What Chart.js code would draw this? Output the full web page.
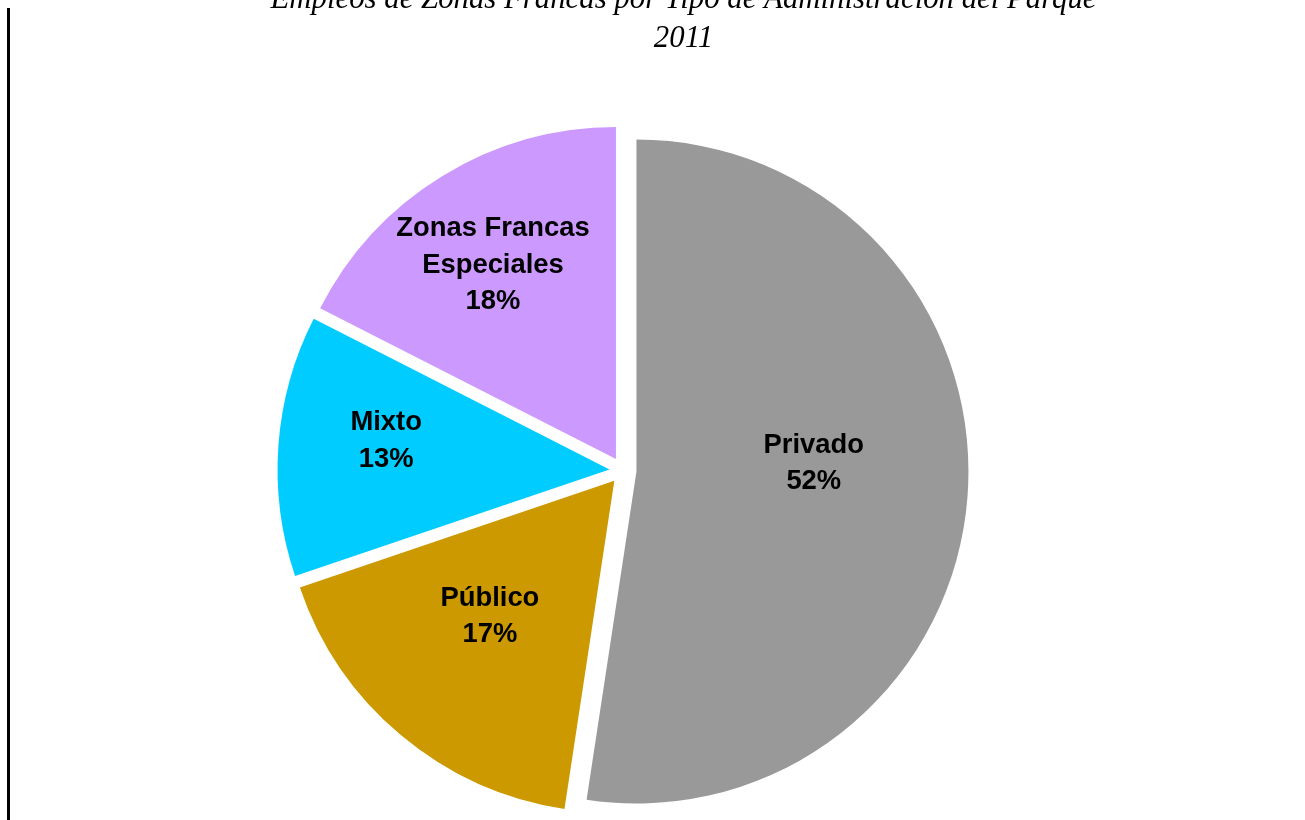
<!DOCTYPE html>
<html><head><meta charset="utf-8">
<script src="https://cdn.jsdelivr.net/npm/chart.js@4.4.1/dist/chart.umd.min.js"></script>
<style>html,body{margin:0;padding:0;background:#fff;overflow:hidden}canvas{display:block}</style>
</head><body>
<canvas id="c" width="1305" height="820"></canvas>
<script>
// ---- data ----
const categories = ['Privado', 'Público', 'Mixto', 'Zonas Francas Especiales'];
const labelLines = [['Privado'], ['Público'], ['Mixto'], ['Zonas Francas', 'Especiales']];
const shares = [52.4, 17.4, 12.7, 17.5];
const colors = ['#999999', '#CC9900', '#00CCFF', '#CC99FF'];
const titleLines = ['Empleos de Zonas Francas por Tipo de Administración del Parque', '2011'];

// ---- layout helpers (not data) ----
const labelRadius = [0.535, 0.55, 0.679, 0.697];
const labelTurnDeg = [-7.6, 3, 3.6, -0.6];
const EXPLODE = 13.5;

const explodePlugin = {
  id: 'explode',
  beforeDatasetsDraw(chart) {
    const meta = chart.getDatasetMeta(0);
    const ca = chart.chartArea;
    const cx = (ca.left + ca.right) / 2 + (meta.controller.offsetX || 0);
    const cy = (ca.top + ca.bottom) / 2 + (meta.controller.offsetY || 0);
    meta.data.forEach(arc => {
      const mid = (arc.startAngle + arc.endAngle) / 2;
      arc.x = cx + Math.cos(mid) * EXPLODE;
      arc.y = cy + Math.sin(mid) * EXPLODE;
    });
  }
};

const labelPlugin = {
  id: 'sliceLabels',
  afterDatasetsDraw(chart) {
    const ctx = chart.ctx;
    const meta = chart.getDatasetMeta(0);
    const total = shares.reduce((a, b) => a + b, 0);
    ctx.save();
    ctx.font = 'bold 27.4px "Liberation Sans", Arial, sans-serif';
    ctx.fillStyle = '#000';
    ctx.textAlign = 'center';
    ctx.textBaseline = 'middle';
    meta.data.forEach((arc, i) => {
      const mid = (arc.startAngle + arc.endAngle) / 2 + labelTurnDeg[i] * Math.PI / 180;
      const d = labelRadius[i] * arc.outerRadius;
      const x = arc.x + Math.cos(mid) * d;
      const y = arc.y + Math.sin(mid) * d + 2;
      const lines = labelLines[i].concat([Math.round(shares[i] / total * 100) + '%']);
      const lh = 36.5;
      const y0 = y - (lines.length - 1) * lh / 2;
      lines.forEach((t, k) => ctx.fillText(t, x, y0 + k * lh));
    });
    ctx.restore();
  }
};

const framePlugin = {
  id: 'frameTitle',
  afterDraw(chart) {
    const ctx = chart.ctx;
    ctx.save();
    ctx.fillStyle = '#000';
    ctx.fillRect(7, 8, 3, chart.height - 8);
    ctx.font = 'italic 30.8px "Liberation Serif", "Times New Roman", serif';
    ctx.textAlign = 'center';
    ctx.textBaseline = 'alphabetic';
    ctx.fillText(titleLines[0], 683.5, 7.5);
    ctx.fillText(titleLines[1], 683.5, 47);
    ctx.restore();
  }
};

new Chart(document.getElementById('c'), {
  type: 'pie',
  data: {
    labels: categories,
    datasets: [{
      data: shares,
      backgroundColor: colors,
      borderWidth: 0,
      hoverOffset: 0
    }]
  },
  options: {
    responsive: false,
    animation: false,
    radius: 332,
    layout: { padding: { left: 0, right: 59, top: 121, bottom: 0 } },
    plugins: { legend: { display: false }, tooltip: { enabled: false }, title: { display: false } },
    events: []
  },
  plugins: [explodePlugin, labelPlugin, framePlugin]
});
</script>
</body></html>
